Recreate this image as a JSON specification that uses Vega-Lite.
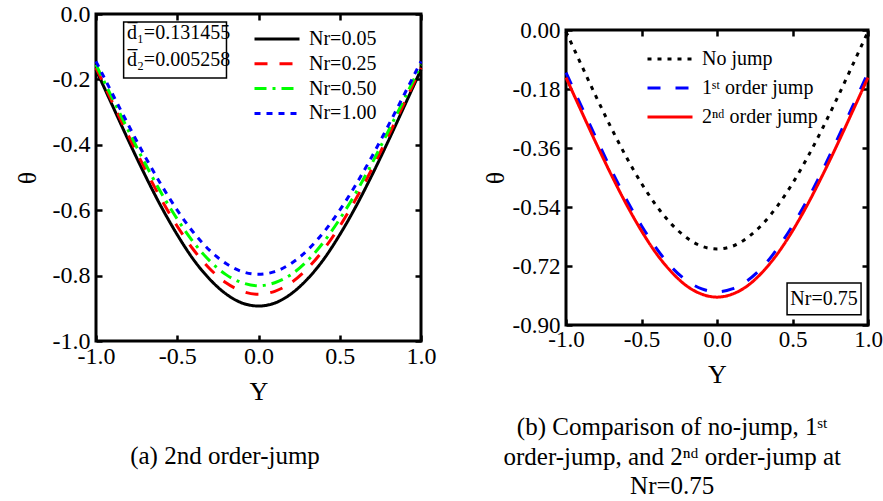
{
"$schema": "https://vega.github.io/schema/vega-lite/v6.json",
"padding": {"left": 12, "top": 0, "right": 0, "bottom": 0},
"background": "white",
"spacing": 145,
"bounds": "flush",
"center": true,
"resolve": {"scale": {"color": "independent", "strokeDash": "independent"}},
"config": {
  "font": "Liberation Serif",
  "view": {"stroke": "black", "strokeWidth": 3},
  "axis": {"domain": false, "grid": false, "tickColor": "black", "tickWidth": 2.5, "labelColor": "black", "titleColor": "black", "titleFontWeight": "normal", "labelFont": "Liberation Serif", "titleFont": "Liberation Serif", "labelFlush": false, "labelOverlap": false},
  "legend": {"padding": 0, "labelFont": "Liberation Serif", "labelColor": "black", "labelFontSize": 20, "symbolType": "M-3,0H3", "symbolSize": 225, "symbolStrokeWidth": 3, "labelOffset": 22, "title": null},
  "title": {"font": "Liberation Serif", "fontWeight": "normal", "color": "black"}
},
"datasets": {
  "L": [
    {"Y":-1.0,"theta":-0.170,"series":"Nr=0.05"},{"Y":-0.9,"theta":-0.279,"series":"Nr=0.05"},{"Y":-0.8,"theta":-0.387,"series":"Nr=0.05"},{"Y":-0.7,"theta":-0.491,"series":"Nr=0.05"},{"Y":-0.6,"theta":-0.588,"series":"Nr=0.05"},{"Y":-0.5,"theta":-0.675,"series":"Nr=0.05"},{"Y":-0.4,"theta":-0.751,"series":"Nr=0.05"},{"Y":-0.3,"theta":-0.811,"series":"Nr=0.05"},{"Y":-0.2,"theta":-0.856,"series":"Nr=0.05"},{"Y":-0.1,"theta":-0.884,"series":"Nr=0.05"},{"Y":0.0,"theta":-0.893,"series":"Nr=0.05"},{"Y":0.1,"theta":-0.884,"series":"Nr=0.05"},{"Y":0.2,"theta":-0.856,"series":"Nr=0.05"},{"Y":0.3,"theta":-0.811,"series":"Nr=0.05"},{"Y":0.4,"theta":-0.751,"series":"Nr=0.05"},{"Y":0.5,"theta":-0.675,"series":"Nr=0.05"},{"Y":0.6,"theta":-0.588,"series":"Nr=0.05"},{"Y":0.7,"theta":-0.491,"series":"Nr=0.05"},{"Y":0.8,"theta":-0.387,"series":"Nr=0.05"},{"Y":0.9,"theta":-0.279,"series":"Nr=0.05"},{"Y":1.0,"theta":-0.170,"series":"Nr=0.05"},
    {"Y":-1.0,"theta":-0.165,"series":"Nr=0.25"},{"Y":-0.9,"theta":-0.269,"series":"Nr=0.25"},{"Y":-0.8,"theta":-0.372,"series":"Nr=0.25"},{"Y":-0.7,"theta":-0.472,"series":"Nr=0.25"},{"Y":-0.6,"theta":-0.565,"series":"Nr=0.25"},{"Y":-0.5,"theta":-0.649,"series":"Nr=0.25"},{"Y":-0.4,"theta":-0.721,"series":"Nr=0.25"},{"Y":-0.3,"theta":-0.779,"series":"Nr=0.25"},{"Y":-0.2,"theta":-0.822,"series":"Nr=0.25"},{"Y":-0.1,"theta":-0.848,"series":"Nr=0.25"},{"Y":0.0,"theta":-0.857,"series":"Nr=0.25"},{"Y":0.1,"theta":-0.848,"series":"Nr=0.25"},{"Y":0.2,"theta":-0.822,"series":"Nr=0.25"},{"Y":0.3,"theta":-0.779,"series":"Nr=0.25"},{"Y":0.4,"theta":-0.721,"series":"Nr=0.25"},{"Y":0.5,"theta":-0.649,"series":"Nr=0.25"},{"Y":0.6,"theta":-0.565,"series":"Nr=0.25"},{"Y":0.7,"theta":-0.472,"series":"Nr=0.25"},{"Y":0.8,"theta":-0.372,"series":"Nr=0.25"},{"Y":0.9,"theta":-0.269,"series":"Nr=0.25"},{"Y":1.0,"theta":-0.165,"series":"Nr=0.25"},
    {"Y":-1.0,"theta":-0.155,"series":"Nr=0.50"},{"Y":-0.9,"theta":-0.257,"series":"Nr=0.50"},{"Y":-0.8,"theta":-0.357,"series":"Nr=0.50"},{"Y":-0.7,"theta":-0.455,"series":"Nr=0.50"},{"Y":-0.6,"theta":-0.546,"series":"Nr=0.50"},{"Y":-0.5,"theta":-0.627,"series":"Nr=0.50"},{"Y":-0.4,"theta":-0.698,"series":"Nr=0.50"},{"Y":-0.3,"theta":-0.755,"series":"Nr=0.50"},{"Y":-0.2,"theta":-0.797,"series":"Nr=0.50"},{"Y":-0.1,"theta":-0.822,"series":"Nr=0.50"},{"Y":0.0,"theta":-0.831,"series":"Nr=0.50"},{"Y":0.1,"theta":-0.822,"series":"Nr=0.50"},{"Y":0.2,"theta":-0.797,"series":"Nr=0.50"},{"Y":0.3,"theta":-0.755,"series":"Nr=0.50"},{"Y":0.4,"theta":-0.698,"series":"Nr=0.50"},{"Y":0.5,"theta":-0.627,"series":"Nr=0.50"},{"Y":0.6,"theta":-0.546,"series":"Nr=0.50"},{"Y":0.7,"theta":-0.455,"series":"Nr=0.50"},{"Y":0.8,"theta":-0.357,"series":"Nr=0.50"},{"Y":0.9,"theta":-0.257,"series":"Nr=0.50"},{"Y":1.0,"theta":-0.155,"series":"Nr=0.50"},
    {"Y":-1.0,"theta":-0.145,"series":"Nr=1.00"},{"Y":-0.9,"theta":-0.243,"series":"Nr=1.00"},{"Y":-0.8,"theta":-0.340,"series":"Nr=1.00"},{"Y":-0.7,"theta":-0.434,"series":"Nr=1.00"},{"Y":-0.6,"theta":-0.521,"series":"Nr=1.00"},{"Y":-0.5,"theta":-0.600,"series":"Nr=1.00"},{"Y":-0.4,"theta":-0.668,"series":"Nr=1.00"},{"Y":-0.3,"theta":-0.723,"series":"Nr=1.00"},{"Y":-0.2,"theta":-0.763,"series":"Nr=1.00"},{"Y":-0.1,"theta":-0.788,"series":"Nr=1.00"},{"Y":0.0,"theta":-0.796,"series":"Nr=1.00"},{"Y":0.1,"theta":-0.788,"series":"Nr=1.00"},{"Y":0.2,"theta":-0.763,"series":"Nr=1.00"},{"Y":0.3,"theta":-0.723,"series":"Nr=1.00"},{"Y":0.4,"theta":-0.668,"series":"Nr=1.00"},{"Y":0.5,"theta":-0.600,"series":"Nr=1.00"},{"Y":0.6,"theta":-0.521,"series":"Nr=1.00"},{"Y":0.7,"theta":-0.434,"series":"Nr=1.00"},{"Y":0.8,"theta":-0.340,"series":"Nr=1.00"},{"Y":0.9,"theta":-0.243,"series":"Nr=1.00"},{"Y":1.0,"theta":-0.145,"series":"Nr=1.00"}
  ],
  "R": [
    {"Y":-1.0,"theta":-0.005,"series":"No jump"},{"Y":-0.9,"theta":-0.105,"series":"No jump"},{"Y":-0.8,"theta":-0.204,"series":"No jump"},{"Y":-0.7,"theta":-0.299,"series":"No jump"},{"Y":-0.6,"theta":-0.388,"series":"No jump"},{"Y":-0.5,"theta":-0.468,"series":"No jump"},{"Y":-0.4,"theta":-0.537,"series":"No jump"},{"Y":-0.3,"theta":-0.593,"series":"No jump"},{"Y":-0.2,"theta":-0.634,"series":"No jump"},{"Y":-0.1,"theta":-0.660,"series":"No jump"},{"Y":0.0,"theta":-0.668,"series":"No jump"},{"Y":0.1,"theta":-0.660,"series":"No jump"},{"Y":0.2,"theta":-0.634,"series":"No jump"},{"Y":0.3,"theta":-0.593,"series":"No jump"},{"Y":0.4,"theta":-0.537,"series":"No jump"},{"Y":0.5,"theta":-0.468,"series":"No jump"},{"Y":0.6,"theta":-0.388,"series":"No jump"},{"Y":0.7,"theta":-0.299,"series":"No jump"},{"Y":0.8,"theta":-0.204,"series":"No jump"},{"Y":0.9,"theta":-0.105,"series":"No jump"},{"Y":1.0,"theta":-0.005,"series":"No jump"},
    {"Y":-1.0,"theta":-0.130,"series":"1ˢᵗ order jump"},{"Y":-0.9,"theta":-0.231,"series":"1ˢᵗ order jump"},{"Y":-0.8,"theta":-0.330,"series":"1ˢᵗ order jump"},{"Y":-0.7,"theta":-0.427,"series":"1ˢᵗ order jump"},{"Y":-0.6,"theta":-0.517,"series":"1ˢᵗ order jump"},{"Y":-0.5,"theta":-0.597,"series":"1ˢᵗ order jump"},{"Y":-0.4,"theta":-0.667,"series":"1ˢᵗ order jump"},{"Y":-0.3,"theta":-0.724,"series":"1ˢᵗ order jump"},{"Y":-0.2,"theta":-0.765,"series":"1ˢᵗ order jump"},{"Y":-0.1,"theta":-0.790,"series":"1ˢᵗ order jump"},{"Y":0.0,"theta":-0.799,"series":"1ˢᵗ order jump"},{"Y":0.1,"theta":-0.790,"series":"1ˢᵗ order jump"},{"Y":0.2,"theta":-0.765,"series":"1ˢᵗ order jump"},{"Y":0.3,"theta":-0.724,"series":"1ˢᵗ order jump"},{"Y":0.4,"theta":-0.667,"series":"1ˢᵗ order jump"},{"Y":0.5,"theta":-0.597,"series":"1ˢᵗ order jump"},{"Y":0.6,"theta":-0.517,"series":"1ˢᵗ order jump"},{"Y":0.7,"theta":-0.427,"series":"1ˢᵗ order jump"},{"Y":0.8,"theta":-0.330,"series":"1ˢᵗ order jump"},{"Y":0.9,"theta":-0.231,"series":"1ˢᵗ order jump"},{"Y":1.0,"theta":-0.130,"series":"1ˢᵗ order jump"},
    {"Y":-1.0,"theta":-0.145,"series":"2ⁿᵈ order jump"},{"Y":-0.9,"theta":-0.246,"series":"2ⁿᵈ order jump"},{"Y":-0.8,"theta":-0.346,"series":"2ⁿᵈ order jump"},{"Y":-0.7,"theta":-0.442,"series":"2ⁿᵈ order jump"},{"Y":-0.6,"theta":-0.532,"series":"2ⁿᵈ order jump"},{"Y":-0.5,"theta":-0.613,"series":"2ⁿᵈ order jump"},{"Y":-0.4,"theta":-0.683,"series":"2ⁿᵈ order jump"},{"Y":-0.3,"theta":-0.739,"series":"2ⁿᵈ order jump"},{"Y":-0.2,"theta":-0.781,"series":"2ⁿᵈ order jump"},{"Y":-0.1,"theta":-0.806,"series":"2ⁿᵈ order jump"},{"Y":0.0,"theta":-0.815,"series":"2ⁿᵈ order jump"},{"Y":0.1,"theta":-0.806,"series":"2ⁿᵈ order jump"},{"Y":0.2,"theta":-0.781,"series":"2ⁿᵈ order jump"},{"Y":0.3,"theta":-0.739,"series":"2ⁿᵈ order jump"},{"Y":0.4,"theta":-0.683,"series":"2ⁿᵈ order jump"},{"Y":0.5,"theta":-0.613,"series":"2ⁿᵈ order jump"},{"Y":0.6,"theta":-0.532,"series":"2ⁿᵈ order jump"},{"Y":0.7,"theta":-0.442,"series":"2ⁿᵈ order jump"},{"Y":0.8,"theta":-0.346,"series":"2ⁿᵈ order jump"},{"Y":0.9,"theta":-0.246,"series":"2ⁿᵈ order jump"},{"Y":1.0,"theta":-0.145,"series":"2ⁿᵈ order jump"}
  ],
  "Lbox": [{"x1": -0.83, "x2": -0.197, "y1": -0.0245, "y2": -0.196}],
  "Ltext": [{"x": -0.81, "y": -0.058, "label": "d̅₁=0.131455"}, {"x": -0.81, "y": -0.142, "label": "d̅₂=0.005258"}],
  "Rbox": [{"x1": 0.464, "x2": 0.954, "y1": -0.772, "y2": -0.869}],
  "Rtext": [{"x": 0.709, "y": -0.82, "label": "Nr=0.75"}]
},
"hconcat": [
  {
    "width": 325, "height": 327,
    "title": {"text": "(a) 2nd order-jump", "orient": "bottom", "frame": "bounds", "anchor": "middle", "fontSize": 25, "offset": 40},
    "resolve": {"axis": {"x": "independent", "y": "independent"}},
    "layer": [
      {
        "data": {"name": "L"},
        "mark": {"type": "line", "strokeWidth": 3, "interpolate": "monotone"},
        "encoding": {
          "x": {"field": "Y", "type": "quantitative", "scale": {"domain": [-1, 1], "nice": false, "zero": false},
                "axis": {"values": [-1, -0.5, 0, 0.5, 1], "labelExpr": "replace(format(datum.value, '.1f'), '−', '-')", "labelFontSize": 24, "tickSize": -6, "labelPadding": 9, "title": "Y", "titleFontSize": 26, "titlePadding": 10}},
          "y": {"field": "theta", "type": "quantitative", "scale": {"domain": [-1, 0], "nice": false, "zero": false},
                "axis": {"values": [0, -0.2, -0.4, -0.6, -0.8, -1], "labelExpr": "replace(format(datum.value, '.1f'), '−', '-')", "labelFontSize": 24, "tickSize": -6, "labelPadding": 12, "title": "θ", "titleFontSize": 26, "titlePadding": 12}},
          "color": {"field": "series", "type": "nominal", "scale": {"domain": ["Nr=0.05", "Nr=0.25", "Nr=0.50", "Nr=1.00"], "range": ["#000000", "#ff0000", "#00ff00", "#0000ff"]},
                    "legend": {"orient": "none", "legendX": 171, "legendY": 15, "rowPadding": 4.8}},
          "strokeDash": {"field": "series", "type": "nominal", "scale": {"domain": ["Nr=0.05", "Nr=0.25", "Nr=0.50", "Nr=1.00"], "range": [[1, 0], [13, 12], [12, 6, 3, 6], [6, 6]]},
                    "legend": {"orient": "none", "legendX": 171, "legendY": 15, "rowPadding": 4.8}}
        }
      },
      {
        "data": {"name": "Lbox"},
        "mark": {"type": "rect", "filled": false, "color": "black", "strokeWidth": 1.5},
        "encoding": {
          "x": {"field": "x1", "type": "quantitative", "scale": {"domain": [-1, 1], "nice": false, "zero": false},
                "axis": {"orient": "top", "values": [-1, -0.5, 0, 0.5, 1], "labels": false, "tickSize": -6, "title": null}},
          "x2": {"field": "x2"},
          "y": {"field": "y1", "type": "quantitative", "scale": {"domain": [-1, 0], "nice": false, "zero": false},
                "axis": {"orient": "right", "values": [0, -0.2, -0.4, -0.6, -0.8, -1], "labels": false, "tickSize": -6, "title": null}},
          "y2": {"field": "y2"}
        }
      },
      {
        "data": {"name": "Ltext"},
        "mark": {"type": "text", "fontSize": 20, "align": "left", "baseline": "middle", "font": "Liberation Serif", "color": "black"},
        "encoding": {
          "x": {"field": "x", "type": "quantitative", "scale": {"domain": [-1, 1], "nice": false, "zero": false}, "axis": null},
          "y": {"field": "y", "type": "quantitative", "scale": {"domain": [-1, 0], "nice": false, "zero": false}, "axis": null},
          "text": {"field": "label"}
        }
      }
    ]
  },
  {
    "width": 302, "height": 295,
    "title": {"text": ["(b) Comparison of no-jump, 1ˢᵗ", "order-jump, and 2ⁿᵈ order-jump at", "Nr=0.75"], "orient": "bottom", "frame": "bounds", "anchor": "middle", "fontSize": 25, "lineHeight": 29.5, "offset": 28, "dx": -10},
    "resolve": {"axis": {"x": "independent", "y": "independent"}},
    "layer": [
      {
        "data": {"name": "R"},
        "mark": {"type": "line", "strokeWidth": 3, "interpolate": "monotone"},
        "encoding": {
          "x": {"field": "Y", "type": "quantitative", "scale": {"domain": [-1, 1], "nice": false, "zero": false},
                "axis": {"values": [-1, -0.5, 0, 0.5, 1], "labelExpr": "replace(format(datum.value, '.1f'), '−', '-')", "labelFontSize": 23, "tickSize": -6, "labelPadding": 9, "title": "Y", "titleFontSize": 26, "titlePadding": 10}},
          "y": {"field": "theta", "type": "quantitative", "scale": {"domain": [-0.9, 0], "nice": false, "zero": false},
                "axis": {"values": [0, -0.18, -0.36, -0.54, -0.72, -0.9], "labelExpr": "replace(format(datum.value, '.2f'), '−', '-')", "labelFontSize": 23, "tickSize": -6, "labelPadding": 12, "title": "θ", "titleFontSize": 26, "titlePadding": 4}},
          "color": {"field": "series", "type": "nominal", "scale": {"domain": ["No jump", "1ˢᵗ order jump", "2ⁿᵈ order jump"], "range": ["#000000", "#0000ff", "#ff0000"]},
                    "legend": {"orient": "none", "legendX": 94, "legendY": 19, "rowPadding": 9}},
          "strokeDash": {"field": "series", "type": "nominal", "scale": {"domain": ["No jump", "1ˢᵗ order jump", "2ⁿᵈ order jump"], "range": [[4, 6], [13, 15], [1, 0]]},
                    "legend": {"orient": "none", "legendX": 94, "legendY": 19, "rowPadding": 9}}
        }
      },
      {
        "data": {"name": "Rbox"},
        "mark": {"type": "rect", "filled": false, "color": "black", "strokeWidth": 1.5},
        "encoding": {
          "x": {"field": "x1", "type": "quantitative", "scale": {"domain": [-1, 1], "nice": false, "zero": false},
                "axis": {"orient": "top", "values": [-1, -0.5, 0, 0.5, 1], "labels": false, "tickSize": -6, "title": null}},
          "x2": {"field": "x2"},
          "y": {"field": "y1", "type": "quantitative", "scale": {"domain": [-0.9, 0], "nice": false, "zero": false},
                "axis": {"orient": "right", "values": [0, -0.18, -0.36, -0.54, -0.72, -0.9], "labels": false, "tickSize": -6, "title": null}},
          "y2": {"field": "y2"}
        }
      },
      {
        "data": {"name": "Rtext"},
        "mark": {"type": "text", "fontSize": 20, "align": "center", "baseline": "middle", "font": "Liberation Serif", "color": "black"},
        "encoding": {
          "x": {"field": "x", "type": "quantitative", "scale": {"domain": [-1, 1], "nice": false, "zero": false}, "axis": null},
          "y": {"field": "y", "type": "quantitative", "scale": {"domain": [-0.9, 0], "nice": false, "zero": false}, "axis": null},
          "text": {"field": "label"}
        }
      }
    ]
  }
]
}
